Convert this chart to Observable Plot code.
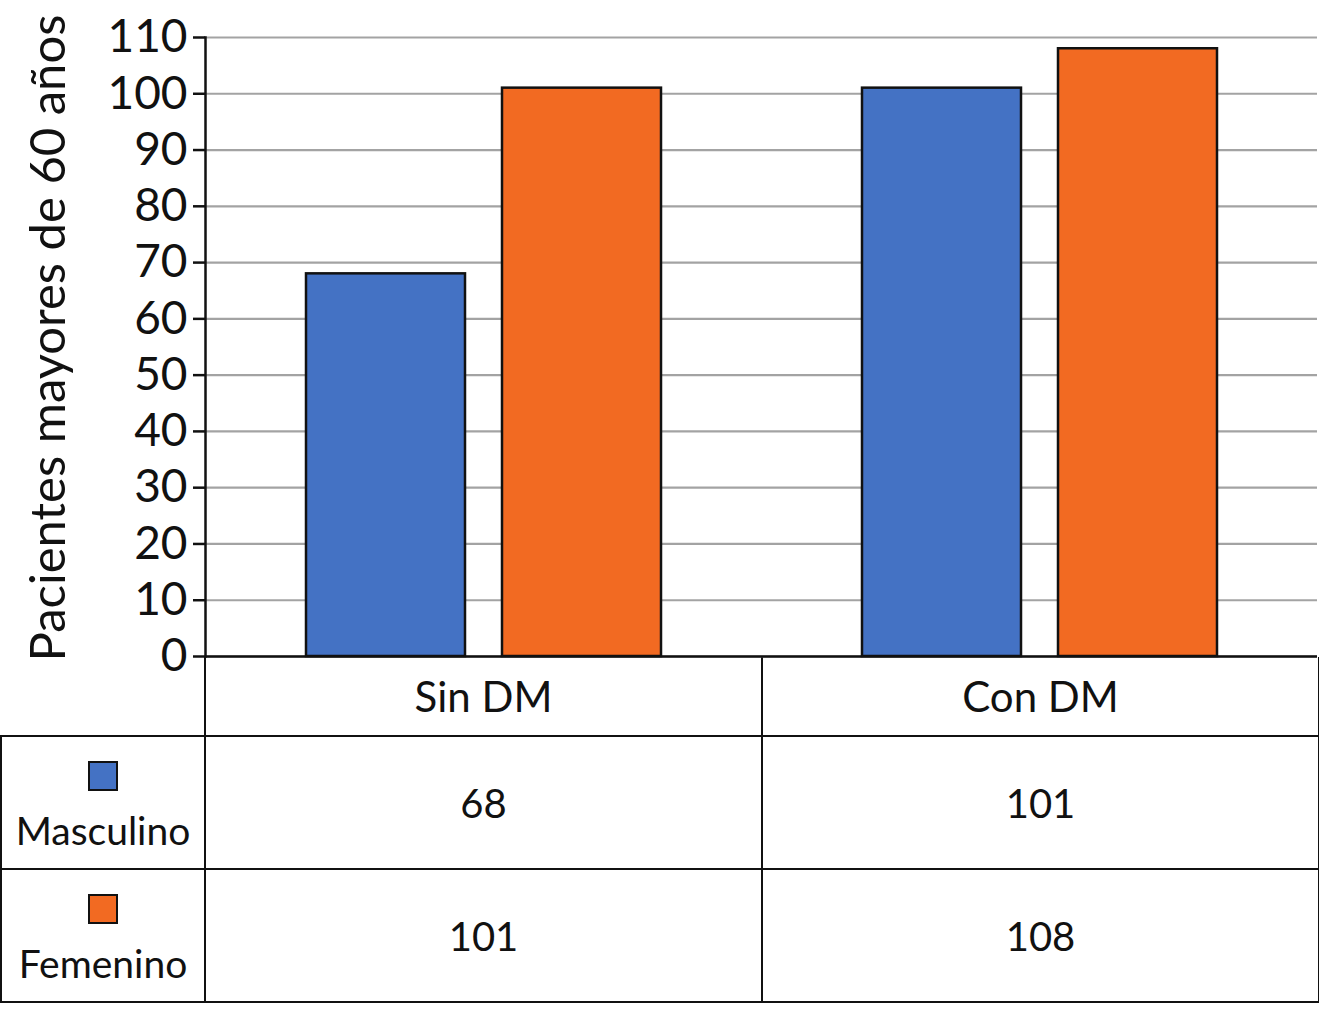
<!DOCTYPE html>
<html><head><meta charset="utf-8">
<script src="https://cdn.jsdelivr.net/npm/d3@7"></script>
<script src="https://cdn.jsdelivr.net/npm/@observablehq/plot@0.6"></script>
<style>
html,body{margin:0;padding:0;background:#fff;}
#chart{height:657px;}
#chart svg{display:block;overflow:visible;}
table{border-collapse:collapse;table-layout:fixed;font-family:Lato, sans-serif;color:#111;width:1318px;}
td{border:2.5px solid #111;text-align:center;vertical-align:middle;padding:0;}
tr.head td{border-top:none;height:78px;font-size:42px;}
tr.head td.blank{border-left:none;}
tr.body td{height:131px;font-size:40px;}
tr.body td.leg{vertical-align:top;padding-top:24px;height:107px;}
.sq{width:26px;height:26px;border:2.5px solid #111;margin:0 auto 20px auto;}
.lbl{font-size:39px;line-height:1;}
</style></head><body><div id="chart"></div><div id="tbl"></div>
<script>
const groups = ["Sin DM", "Con DM"];
const sexes = ["Masculino", "Femenino"];
const masculino = [68, 101];
const femenino = [101, 108];
const yTicks = [0, 10, 20, 30, 40, 50, 60, 70, 80, 90, 100, 110];
const colors = ["#4472c4", "#f26a22"];
const yLabel = "Pacientes mayores de 60 años";

const series = {Masculino: masculino, Femenino: femenino};
const data = groups.flatMap((g, i) => sexes.map(s => ({grupo: g, sexo: s, valor: series[s][i]})));

const plot = Plot.plot({
  width: 1319, height: 657,
  marginLeft: 204, marginRight: 2, marginTop: 37, marginBottom: 1,
  style: {fontFamily: "Lato, sans-serif", background: "white", color: "#111", overflow: "visible"},
  fx: {domain: groups, padding: 0, axis: null},
  x: {domain: sexes, paddingInner: 0.19, paddingOuter: 0.51, axis: null},
  y: {domain: [0, 110]},
  color: {domain: sexes, range: colors},
  marks: [
    Plot.gridY(yTicks, {stroke: "#a3a3a3", strokeOpacity: 1, strokeWidth: 2.2}),
    Plot.barY(data, {fx: "grupo", x: "sexo", y: "valor", fill: "sexo", stroke: "#111", strokeWidth: 2.5}),
    Plot.ruleY([0], {stroke: "#111", strokeWidth: 2.5}),
    Plot.axisY(yTicks, {tickSize: 12, tickPadding: 6, fontSize: 46, label: null, tickFormat: d => String(d), stroke: "#111", strokeWidth: 2.5}),
    Plot.frame({anchor: "left", fx: [groups[0]], stroke: "#111", strokeWidth: 2.5}),
    Plot.text([{fx: groups[0], t: yLabel}], {fx: "fx", text: "t", frameAnchor: "left", rotate: -90, dx: -175, dy: -9, textAnchor: "middle", lineAnchor: "top", fontSize: 49, fill: "#111"})
  ]
});
document.getElementById("chart").appendChild(plot);

// data table below the chart
let html = '<table><colgroup><col style="width:204px"><col style="width:557px"><col style="width:557px"></colgroup>';
html += '<tr class="head"><td class="blank"></td>' + groups.map(g => `<td>${g}</td>`).join("") + '</tr>';
sexes.forEach((s, k) => {
  html += `<tr class="body"><td class="leg"><div class="sq" style="background:${colors[k]}"></div><div class="lbl">${s}</div></td>` +
    series[s].map(v => `<td>${v}</td>`).join("") + '</tr>';
});
html += '</table>';
document.getElementById("tbl").innerHTML = html;
</script>
</body></html>
